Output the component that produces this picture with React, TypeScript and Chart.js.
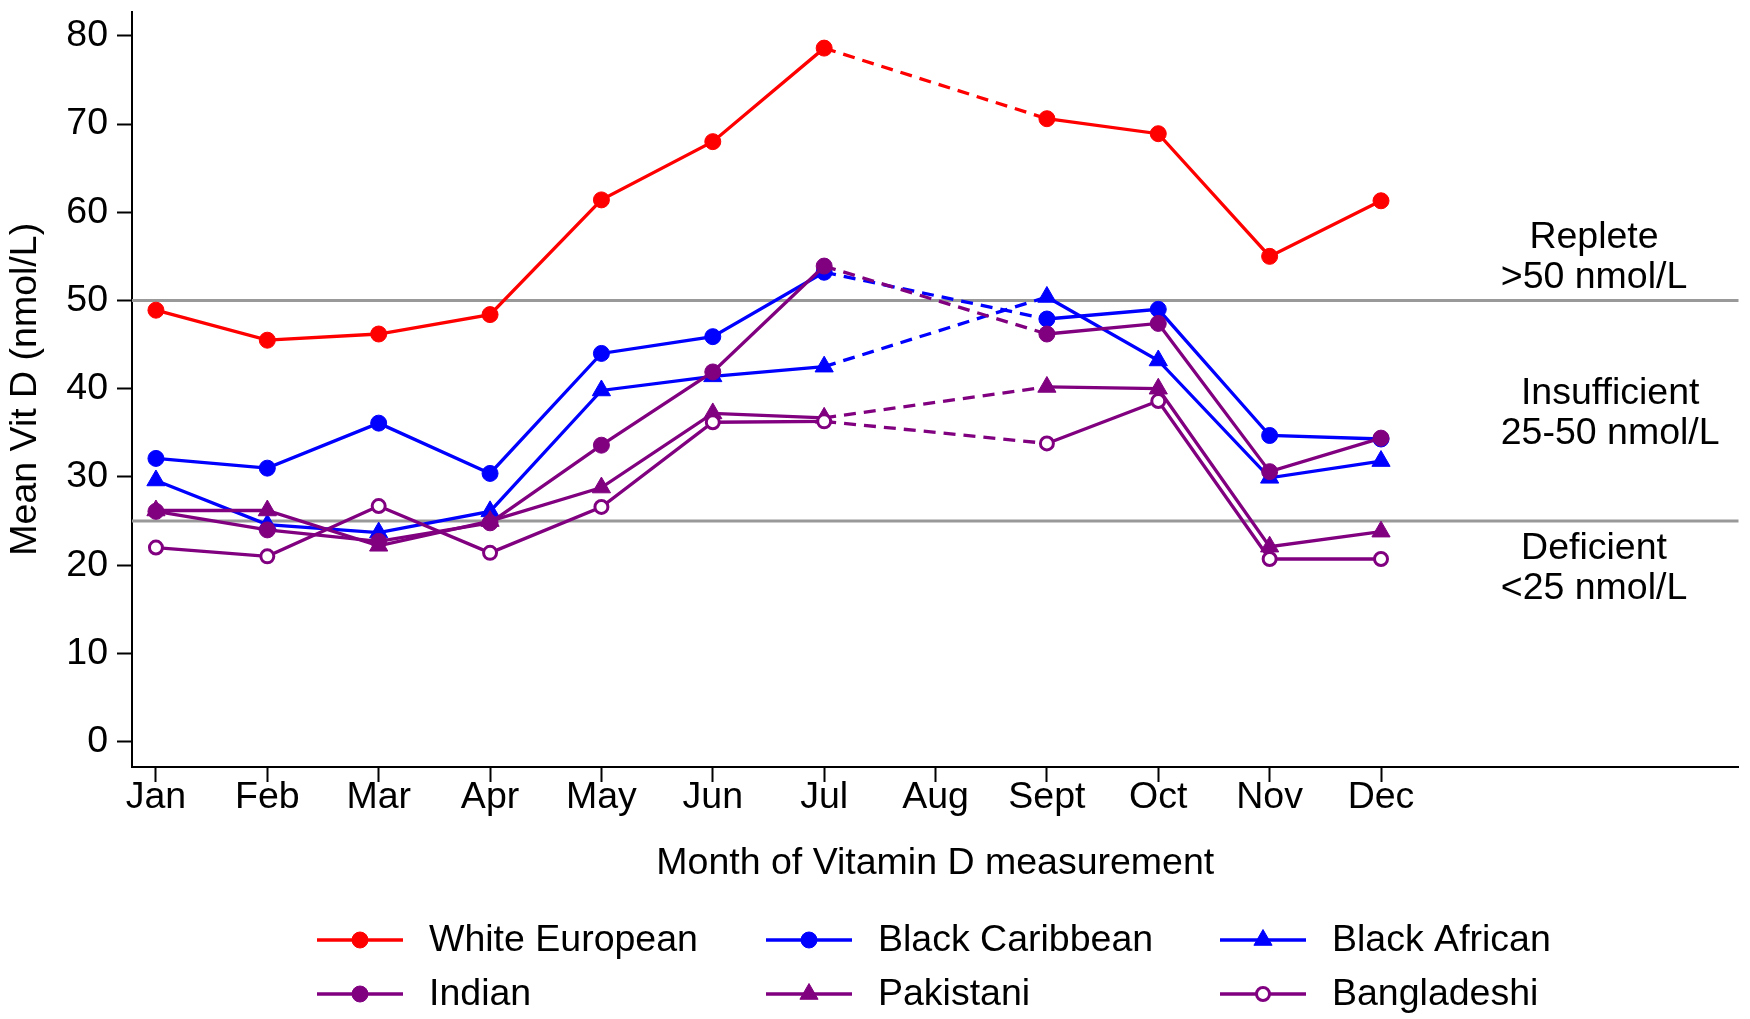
import React, { useEffect, useRef } from "react";
import { Chart, registerables } from "chart.js";

Chart.register(...registerables);

// ---------- data ----------
const months = ["Jan", "Feb", "Mar", "Apr", "May", "Jun", "Jul", "Aug", "Sept", "Oct", "Nov", "Dec"];
const yTickValues = [0, 10, 20, 30, 40, 50, 60, 70, 80];

const whiteEuropean = [48.9, 45.5, 46.2, 48.4, 61.4, 68.0, 78.6, null, 70.6, 68.9, 55.0, 61.3];
const blackCaribbean = [32.1, 31.0, 36.1, 30.4, 44.0, 45.9, 53.2, null, 47.9, 49.0, 34.7, 34.3];
const blackAfrican = [29.6, 24.6, 23.7, 26.1, 39.8, 41.4, 42.5, null, 50.4, 43.2, 29.9, 31.8];
const indian = [26.1, 24.0, 22.7, 24.8, 33.6, 41.9, 53.9, null, 46.2, 47.4, 30.6, 34.4];
const pakistani = [26.2, 26.2, 22.2, 25.0, 28.8, 37.2, 36.7, null, 40.2, 40.0, 22.1, 23.8];
const bangladeshi = [22.0, 21.0, 26.7, 21.4, 26.6, 36.2, 36.3, null, 33.8, 38.6, 20.7, 20.7];

const seriesLabels = ["White European", "Black Caribbean", "Black African", "Indian", "Pakistani", "Bangladeshi"];
const seriesValues = [whiteEuropean, blackCaribbean, blackAfrican, indian, pakistani, bangladeshi];

const thresholdValues = [25, 50];
const bandLabels = [
  ["Replete", ">50 nmol/L"],
  ["Insufficient", "25-50 nmol/L"],
  ["Deficient", "<25 nmol/L"],
];
const bandCenters = [54.8, 37.2, 19.6];

const xTitle = "Month of Vitamin D measurement";
const yTitle = "Mean Vit D (nmol/L)";

// ---------- styles ----------
const RED = "#FF0000";
const BLUE = "#0000FF";
const PURPLE = "#800080";
const seriesColors = [RED, BLUE, BLUE, PURPLE, PURPLE, PURPLE];
const seriesMarkers = ["circle", "circle", "triangle", "circle", "triangle", "circle"];
const seriesOpen = [false, false, false, false, false, true];

const FONT = '"Liberation Sans", Arial, Helvetica, sans-serif';
const FS = 37.5;
const LINE_W = 3.3;

const W = 1750;
const H = 1019;

function markerRadius(i: number) {
  if (seriesMarkers[i] === "triangle") return 10.5;
  if (seriesOpen[i]) return 6.5;
  return 8;
}

function drawMarker(ctx: CanvasRenderingContext2D, i: number, x: number, y: number) {
  const r = markerRadius(i);
  ctx.save();
  ctx.beginPath();
  if (seriesMarkers[i] === "triangle") {
    let rad = 0;
    ctx.moveTo(x + Math.sin(rad) * r, y - Math.cos(rad) * r);
    rad += (2 * Math.PI) / 3;
    ctx.lineTo(x + Math.sin(rad) * r, y - Math.cos(rad) * r);
    rad += (2 * Math.PI) / 3;
    ctx.lineTo(x + Math.sin(rad) * r, y - Math.cos(rad) * r);
    ctx.closePath();
  } else {
    ctx.arc(x, y, r, 0, Math.PI * 2);
  }
  ctx.fillStyle = seriesOpen[i] ? "#FFFFFF" : seriesColors[i];
  ctx.fill();
  ctx.lineWidth = seriesOpen[i] ? 3 : 1;
  ctx.strokeStyle = seriesColors[i];
  ctx.stroke();
  ctx.restore();
}

const overlayPlugin = {
  id: "overlay",
  beforeDatasetsDraw(chart: any) {
    const { ctx, chartArea } = chart;
    const y = chart.scales.y;
    ctx.save();
    ctx.strokeStyle = "#999999";
    ctx.lineWidth = 3;
    thresholdValues.forEach((t) => {
      const py = y.getPixelForValue(t);
      ctx.beginPath();
      ctx.moveTo(chartArea.left, py);
      ctx.lineTo(chartArea.right, py);
      ctx.stroke();
    });
    ctx.restore();
  },
  afterDraw(chart: any) {
    const { ctx, chartArea } = chart;
    const xs = chart.scales.x;
    const ys = chart.scales.y;
    ctx.save();
    ctx.fillStyle = "#000";
    ctx.font = `${FS}px ${FONT}`;
    ctx.textBaseline = "middle";

    // band annotations (block left-aligned, lines centered within block)
    const blockLeft = xs.getPixelForValue(12.075);
    bandLabels.forEach((lines, k) => {
      const widths = lines.map((l) => ctx.measureText(l).width);
      const maxW = Math.max(...widths);
      const cy = ys.getPixelForValue(bandCenters[k]);
      const lh = 40;
      lines.forEach((l, j) => {
        ctx.textAlign = "center";
        ctx.fillText(l, blockLeft + maxW / 2, cy + (j - (lines.length - 1) / 2) * lh);
      });
    });

    // x title
    ctx.textAlign = "center";
    ctx.fillText(xTitle, (chartArea.left + chartArea.right) / 2, 864);

    // y title
    ctx.save();
    ctx.translate(26, (chartArea.top + chartArea.bottom) / 2);
    ctx.rotate(-Math.PI / 2);
    ctx.textAlign = "center";
    ctx.fillText(yTitle, 0, 0);
    ctx.restore();

    // legend
    const colX = [317, 766, 1220];
    const rowY = [940, 994];
    const lineLen = 86;
    const textOff = 112;
    seriesLabels.forEach((label, i) => {
      const cx = colX[i % 3];
      const cy = rowY[Math.floor(i / 3)];
      ctx.save();
      ctx.strokeStyle = seriesColors[i];
      ctx.lineWidth = LINE_W;
      ctx.beginPath();
      ctx.moveTo(cx, cy);
      ctx.lineTo(cx + lineLen, cy);
      ctx.stroke();
      ctx.restore();
      drawMarker(ctx, i, cx + lineLen / 2, cy);
      ctx.fillStyle = "#000";
      ctx.textAlign = "left";
      ctx.textBaseline = "middle";
      ctx.fillText(label, cx + textOff, cy + 1);
    });
    ctx.restore();
  },
};

export default function App() {
  const canvasRef = useRef<HTMLCanvasElement | null>(null);

  useEffect(() => {
    document.body.style.margin = "0";
    const canvas = canvasRef.current;
    if (!canvas) return;
    Chart.defaults.font.family = FONT;

    const datasets = seriesLabels.map((label, i) => ({
      label,
      data: seriesValues[i].map((v, k) => ({ x: k, y: v })),
      borderColor: seriesColors[i],
      backgroundColor: seriesOpen[i] ? "#FFFFFF" : seriesColors[i],
      pointBackgroundColor: seriesOpen[i] ? "#FFFFFF" : seriesColors[i],
      pointBorderColor: seriesColors[i],
      pointBorderWidth: seriesOpen[i] ? 3 : 1,
      pointRadius: markerRadius(i),
      pointHoverRadius: markerRadius(i),
      pointStyle: seriesMarkers[i],
      borderWidth: LINE_W,
      tension: 0,
      fill: false,
      spanGaps: true,
      order: 10 - i,
      segment: {
        borderDash: (c: any) => (c.p0.skip || c.p1.skip ? [12, 8] : undefined),
      },
    }));

    const chart = new Chart(canvas, {
      type: "line",
      data: { datasets } as any,
      options: {
        animation: false,
        responsive: false,
        devicePixelRatio: 1,
        layout: { padding: { left: 0, top: 5, right: 5, bottom: 0 } },
        plugins: {
          legend: { display: false },
          tooltip: { enabled: false },
          title: { display: false },
        },
        events: [],
        scales: {
          x: {
            type: "linear",
            min: -0.215,
            max: 14.21,
            afterBuildTicks: (s: any) => {
              s.ticks = months.map((_, i) => ({ value: i }));
            },
            afterFit: (s: any) => {
              s.height = H - 767;
              s.paddingLeft = 0;
              s.paddingRight = 0;
            },
            ticks: {
              autoSkip: false,
              maxRotation: 0,
              minRotation: 0,
              padding: -3,
              color: "#000",
              font: { size: FS, lineHeight: 1 },
              callback: (v: any) => months[Math.round(Number(v))] ?? "",
            },
            grid: { drawOnChartArea: false, drawTicks: true, tickLength: 15, tickWidth: 2, tickColor: "#000" },
            border: { display: true, color: "#000", width: 2 },
          },
          y: {
            type: "linear",
            min: -2.87,
            max: 82.75,
            afterBuildTicks: (s: any) => {
              s.ticks = yTickValues.map((v) => ({ value: v }));
            },
            afterFit: (s: any) => {
              s.width = 132;
              s.paddingTop = 0;
              s.paddingBottom = 0;
            },
            ticks: {
              padding: 9,
              color: "#000",
              font: { size: FS, lineHeight: 1 },
            },
            grid: { drawOnChartArea: false, drawTicks: true, tickLength: 15, tickWidth: 2, tickColor: "#000" },
            border: { display: true, color: "#000", width: 2 },
          },
        },
      } as any,
      plugins: [overlayPlugin],
    });
    return () => chart.destroy();
  }, []);

  return (
    <div style={{ position: "absolute", left: 0, top: 0, width: W, height: H, background: "#fff" }}>
      <canvas ref={canvasRef} width={W} height={H} style={{ width: W, height: H, display: "block" }} />
    </div>
  );
}
